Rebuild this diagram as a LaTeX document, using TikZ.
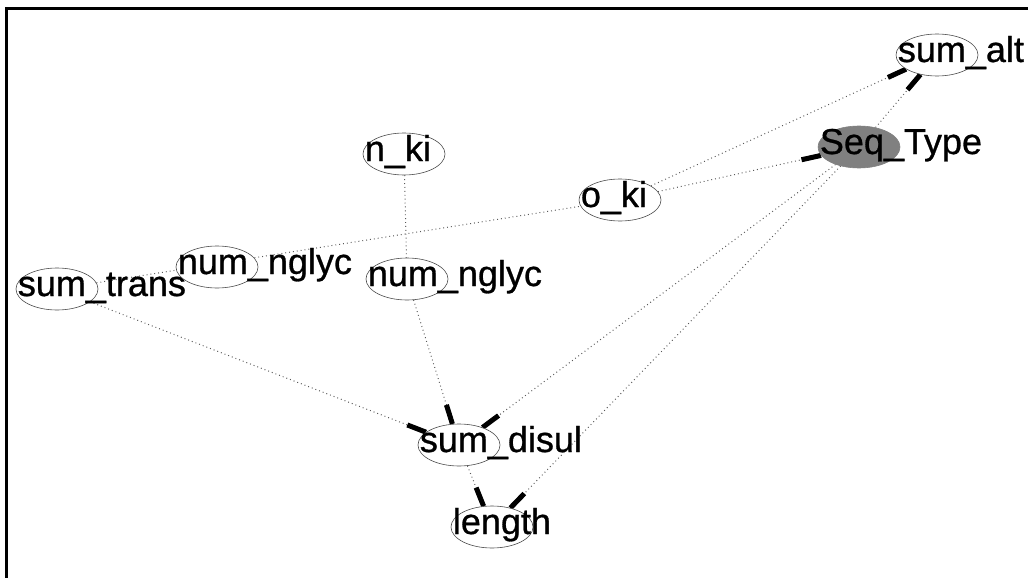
\documentclass[tikz,border=0pt]{standalone}
\usepackage{fontspec}
\setmainfont{Liberation Sans}
\newfontfamily\knotenfont[FakeBold=0.8]{Liberation Sans}
\usepackage{tikz}
\usetikzlibrary{arrows.meta,backgrounds,positioning,shapes.geometric}

\begin{document}
\begin{tikzpicture}[x=1pt,y=-1pt,
  knoten/.style={ellipse,draw=black!70,line width=0.6pt,fill=white,minimum width=82pt,minimum height=42pt,inner sep=0pt},
  beschr/.style={anchor=base west,inner sep=0pt,font=\knotenfont\fontsize{36}{36}\selectfont},
  kante/.style={draw=black!65,line width=1pt,dash pattern=on 0.9pt off 3pt},
  pfeil/.style={kante,-{Rectangle[length=20pt,width=5pt,color=black]}}]
\useasboundingbox (0,0) rectangle (1028,578);
%Rahmen nur links und oben
\draw[line width=3pt] (6,578) -- (6,9) -- (1028,9);
%Knoten: Name/x/y/Text
\foreach \n/\x/\y/\t in {sumalt/937/55/sum\_alt, nki/404/154/n\_ki, oki/620/200/o\_ki,
  sumtrans/57/289/sum\_trans, numnglycA/217/267/num\_nglyc, numnglycB/407/279/num\_nglyc,
  sumdisul/459/445/sum\_disul, length/492/527/length}{
  \node[knoten] (\n) at (\x,\y) {};
  \node[beschr] (\n-t) at ([shift={(2pt,-7pt)}]\n.west) {\t};
}
\node[knoten,draw=black!50,fill=black!50] (seqtype) at (859,147) {};
\node[beschr] (seqtype-t) at ([shift={(2pt,-7pt)}]seqtype.west) {Seq\_Type};
%Kanten
\begin{scope}[on background layer]
\foreach \a/\b in {oki/sumalt, oki/seqtype, seqtype/sumalt, sumtrans/sumdisul,
  numnglycB/sumdisul, seqtype/sumdisul, seqtype/length, sumdisul/length}
  \draw[pfeil] (\a) -- (\b);
\foreach \a/\b in {nki/numnglycB, sumtrans/oki}
  \draw[kante] (\a) -- (\b);
\end{scope}
\end{tikzpicture}
\end{document}
